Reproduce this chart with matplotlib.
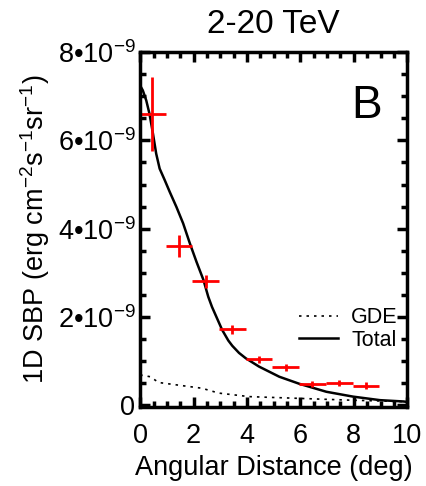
import matplotlib.pyplot as plt
from matplotlib.ticker import MultipleLocator

plt.rcParams['font.family'] = ['Liberation Sans', 'DejaVu Sans']
plt.rcParams['mathtext.fontset'] = 'custom'
plt.rcParams['mathtext.rm'] = 'Liberation Sans'
plt.rcParams['mathtext.it'] = 'Liberation Sans'

# данные (по оси y в единицах 1e-9)
bin_x = [0.45, 1.45, 2.45, 3.45, 4.45, 5.45, 6.45, 7.45, 8.45]
bin_xerr = [0.5, 0.5, 0.5, 0.5, 0.5, 0.5, 0.5, 0.5, 0.5]
sbp = [6.59, 3.60, 2.81, 1.72, 1.05, 0.86, 0.49, 0.50, 0.45]
sbp_err = [0.84, 0.25, 0.15, 0.10, 0.08, 0.08, 0.07, 0.07, 0.07]

total_x = [0.0, 0.10, 0.23, 0.35, 0.48, 0.60, 0.73, 0.92, 1.11, 1.36, 1.61,
           1.86, 2.11, 2.37, 2.55, 2.69, 3.07, 3.30, 3.45, 3.70, 3.95, 4.45,
           5.21, 5.96, 6.97, 7.97, 8.98, 9.86, 10.0]
total_y = [7.24, 7.13, 6.90, 6.60, 6.15, 5.70, 5.36, 5.10, 4.83, 4.49, 4.12,
           3.67, 3.25, 2.84, 2.46, 2.23, 1.71, 1.47, 1.35, 1.19, 1.07, 0.88,
           0.65, 0.49, 0.31, 0.20, 0.12, 0.09, 0.08]

gde_x = [0.0, 0.38, 0.69, 1.43, 2.31, 2.94, 4.08, 5.96, 7.85, 9.7, 10.0]
gde_y = [0.69, 0.65, 0.52, 0.46, 0.39, 0.28, 0.20, 0.16, 0.12, 0.09, 0.08]

yticks = [0, 2, 4, 6, 8]
ytick_labels = ['0', r'2•10$^{-9}$', r'4•10$^{-9}$', r'6•10$^{-9}$', r'8•10$^{-9}$']

fig = plt.figure(figsize=(4.26, 4.86), dpi=100)
ax = fig.add_axes([0.329, 0.163, 0.627, 0.730])

ax.plot(gde_x, gde_y, color='black', lw=1.2, ls=(0, (1.5, 3)), label='GDE')
ax.plot(total_x, total_y, color='black', lw=1.8, label='Total')
ax.errorbar(bin_x, sbp, xerr=bin_xerr, yerr=sbp_err, fmt='none',
            ecolor='red', elinewidth=2, capsize=0)

ax.set_xlim(0, 10)
ax.set_ylim(-0.03, 7.97)
ax.set_xticks([0, 2, 4, 6, 8, 10])
ax.set_yticks(yticks)
ax.set_yticklabels(ytick_labels)
ax.xaxis.set_minor_locator(MultipleLocator(0.5))
ax.yaxis.set_minor_locator(MultipleLocator(0.5))
ax.tick_params(which='both', direction='in', top=True, right=True,
               labelsize=19.5, width=2.5)
ax.tick_params(axis='x', pad=12)
ax.tick_params(which='major', length=7)
ax.tick_params(which='minor', length=4)
for s in ax.spines.values():
    s.set_linewidth(2.5)

ax.set_title('2-20 TeV', fontsize=24, pad=14)
ax.set_xlabel('Angular Distance (deg)', fontsize=19.5, labelpad=4)
ax.set_ylabel(r'1D SBP (erg cm$^{-2}$s$^{-1}$sr$^{-1}$)', fontsize=19.5, labelpad=4)
ax.text(0.906, 0.848, 'B', transform=ax.transAxes, fontsize=33,
        ha='right', va='center')

ax.legend(loc='upper left', bbox_to_anchor=(0.596, 0.28), frameon=False,
          fontsize=15.5, handlelength=1.8, handletextpad=0.6,
          labelspacing=0.05, borderpad=0, borderaxespad=0)

fig.savefig('out.png', dpi=100)
